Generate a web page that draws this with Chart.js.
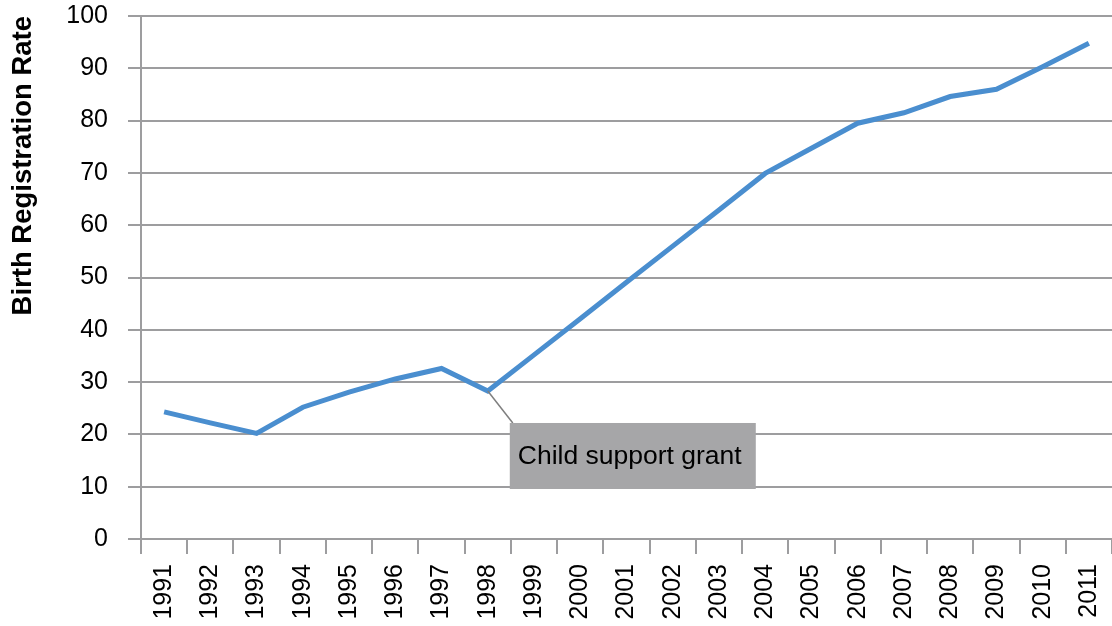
<!DOCTYPE html>
<html>
<head>
<meta charset="utf-8">
<script src="https://cdn.jsdelivr.net/npm/chart.js"></script>
<style>
  html, body { margin: 0; padding: 0; background: #fff; }
</style>
</head>
<body>
<canvas id="birthChart" width="1112" height="626"></canvas>
<script>
// Birth registration rate by year
const years = ["1991", "1992", "1993", "1994", "1995", "1996", "1997", "1998", "1999", "2000",
  "2001", "2002", "2003", "2004", "2005", "2006", "2007", "2008", "2009", "2010", "2011"];
const rates = [24.3, 22.2, 20.2, 25.2, 28.1, 30.6, 32.6, 28.3, 35.2, 42.1,
  49.1, 56.0, 62.9, 69.9, 74.7, 79.5, 81.5, 84.6, 86.0, 90.3, 94.8];
const yTicks = [0, 10, 20, 30, 40, 50, 60, 70, 80, 90, 100];
const noteYear = "1998";
const noteText = "Child support grant";

const gridGray = "#9d9d9f";
const fontFamily = "'Liberation Sans', Arial, sans-serif";

// callout box with a leader line, anchored to the 1998 point
const calloutPlugin = {
  id: "callout",
  afterDatasetsDraw(chart) {
    const ctx = chart.ctx;
    const i = years.indexOf(noteYear);
    const px = chart.scales.x.getPixelForValue(i);
    const py = chart.scales.y.getPixelForValue(rates[i]);
    const bx = px + 22, by = py + 32, bw = 246, bh = 66;
    ctx.save();
    ctx.strokeStyle = "#7f7f7f";
    ctx.lineWidth = 1.5;
    ctx.beginPath();
    ctx.moveTo(px, py);
    ctx.lineTo(bx + 3, by);
    ctx.stroke();
    ctx.fillStyle = "#a6a6a8";
    ctx.fillRect(bx, by, bw, bh);
    ctx.fillStyle = "#000";
    ctx.font = "26.5px " + fontFamily;
    ctx.textBaseline = "middle";
    ctx.fillText(noteText, bx + 8, by + bh / 2 + 1);
    ctx.restore();
  }
};

new Chart(document.getElementById("birthChart"), {
  type: "line",
  data: {
    labels: years,
    datasets: [{
      label: "Birth Registration Rate",
      data: rates,
      borderColor: "#4a8ecf",
      borderWidth: 5,
      pointRadius: 0,
      tension: 0,
      fill: false
    }]
  },
  options: {
    responsive: false,
    animation: false,
    layout: { padding: { top: 16, right: 0, left: 0, bottom: 0 } },
    plugins: {
      legend: { display: false },
      tooltip: { enabled: false }
    },
    scales: {
      x: {
        offset: true,
        grid: {
          offset: true,
          drawOnChartArea: false,
          drawTicks: true,
          tickLength: 15,
          // no tick mark at the far right edge
          color: c => (c.index >= years.length ? "rgba(0,0,0,0)" : gridGray),
          lineWidth: 2
        },
        border: { color: gridGray, width: 2 },
        ticks: {
          autoSkip: false,
          minRotation: 90,
          maxRotation: 90,
          padding: 10,
          color: "#000",
          font: { family: fontFamily, size: 25 }
        },
        afterFit(scale) {
          scale.height = 87;
          scale.paddingLeft = 0;
          scale.paddingRight = 0;
        }
      },
      y: {
        min: 0,
        max: 100,
        afterBuildTicks(scale) { scale.ticks = yTicks.map(v => ({ value: v })); },
        grid: {
          color: gridGray,
          lineWidth: 2,
          tickLength: 13
        },
        border: { color: gridGray, width: 2 },
        ticks: {
          padding: 20,
          color: "#000",
          font: { family: fontFamily, size: 25 }
        },
        title: {
          display: true,
          text: "Birth Registration Rate",
          align: "end",
          color: "#000",
          font: { family: fontFamily, size: 27.5, weight: "bold" },
          padding: { top: 7, bottom: 0 }
        },
        afterFit(scale) {
          scale.width = 141;
          scale.paddingTop = 0;
          scale.paddingBottom = 0;
        }
      }
    }
  },
  plugins: [calloutPlugin]
});
</script>
</body>
</html>
